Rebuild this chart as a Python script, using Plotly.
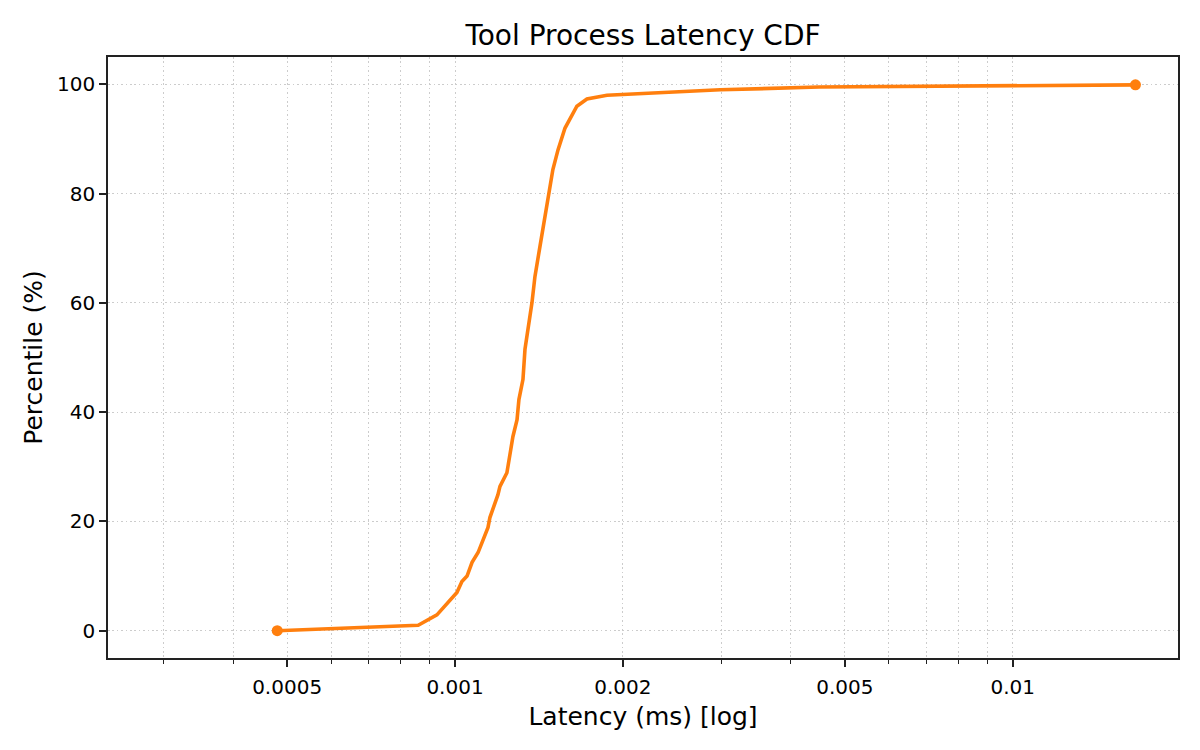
import numpy as np
import plotly.graph_objects as go

# CDF readings: latency (ms) vs percentile
latency_ms = [0.000480, 0.000859, 0.000928, 0.001008, 0.001029, 0.001051, 0.001073,
              0.001100, 0.001146, 0.001155, 0.001194, 0.001204, 0.001239, 0.001255,
              0.001270, 0.001292, 0.001302, 0.001324, 0.001335, 0.001374, 0.001391,
              0.001420, 0.001450, 0.001480, 0.001498, 0.001530, 0.001575, 0.001654,
              0.001724, 0.001873, 0.00299, 0.0045, 0.0166]
percentile = [0, 1, 2.9, 7, 9, 10, 12.5,
              14.3, 18.9, 20.7, 24.9, 26.4, 28.9, 31.9,
              35.5, 38.6, 42.3, 46, 51.5, 60, 64.8,
              70.3, 75.8, 80.8, 84.4, 88, 92, 96,
              97.3, 98.0, 99.0, 99.5, 99.9]

x_ticks = [0.0005, 0.001, 0.002, 0.005, 0.01]
x_tick_labels = ["0.0005", "0.001", "0.002", "0.005", "0.01"]
x_minor = [0.0003, 0.0004, 0.0006, 0.0007, 0.0008, 0.0009,
           0.003, 0.004, 0.006, 0.007, 0.008, 0.009]
y_ticks = [0, 20, 40, 60, 80, 100]

orange = "#ff7f0e"
font = "DejaVu Sans"
grid = dict(showgrid=True, gridcolor="#cccccc", griddash="1.6px,2.8px", gridwidth=1.1)

fig = go.Figure()

# main curve
fig.add_trace(go.Scatter(
    x=latency_ms, y=percentile, mode="lines",
    line=dict(color=orange, width=3.6),
    showlegend=False
))

# min / max markers
fig.add_trace(go.Scatter(
    x=[latency_ms[0], latency_ms[-1]], y=[percentile[0], percentile[-1]],
    mode="markers", marker=dict(color=orange, size=11),
    showlegend=False
))

axis_common = dict(
    showline=True, mirror=True, linecolor="#222222", linewidth=1.6,
    ticks="outside", ticklen=7, tickwidth=1.6, tickcolor="#222222",
    zeroline=False,
    tickfont=dict(family=font, size=20, color="black"),
    **grid
)

fig.update_xaxes(
    type="log",
    range=[-3.6222, -1.7036],
    tickmode="array", tickvals=x_ticks, ticktext=x_tick_labels,
    ticklabelstandoff=3,
    minor=dict(tickmode="array", tickvals=x_minor, ticks="outside", ticklen=4,
               tickwidth=1.2, tickcolor="#222222", **grid),
    title=dict(text="Latency (ms) [log]", font=dict(family=font, size=25, color="black"),
               standoff=10),
    **axis_common
)

fig.update_yaxes(
    range=[-5, 105],
    tickmode="array", tickvals=y_ticks,
    title=dict(text="Percentile (%)", font=dict(family=font, size=25, color="black"),
               standoff=7),
    **axis_common
)

fig.update_layout(
    width=1200, height=750,
    margin=dict(l=108, r=22, t=57, b=92),
    paper_bgcolor="white", plot_bgcolor="white",
    title=dict(text="Tool Process Latency CDF", x=0.5, xref="paper",
               y=1 - 35 / 750, yref="container", yanchor="middle",
               font=dict(family=font, size=28, color="black")),
    font=dict(family=font),
)

# drop the default page margin so the figure sits at the window's corner
fig.write_html("out.html", config={"displayModeBar": False},
               post_script="document.body.style.margin='0';")
